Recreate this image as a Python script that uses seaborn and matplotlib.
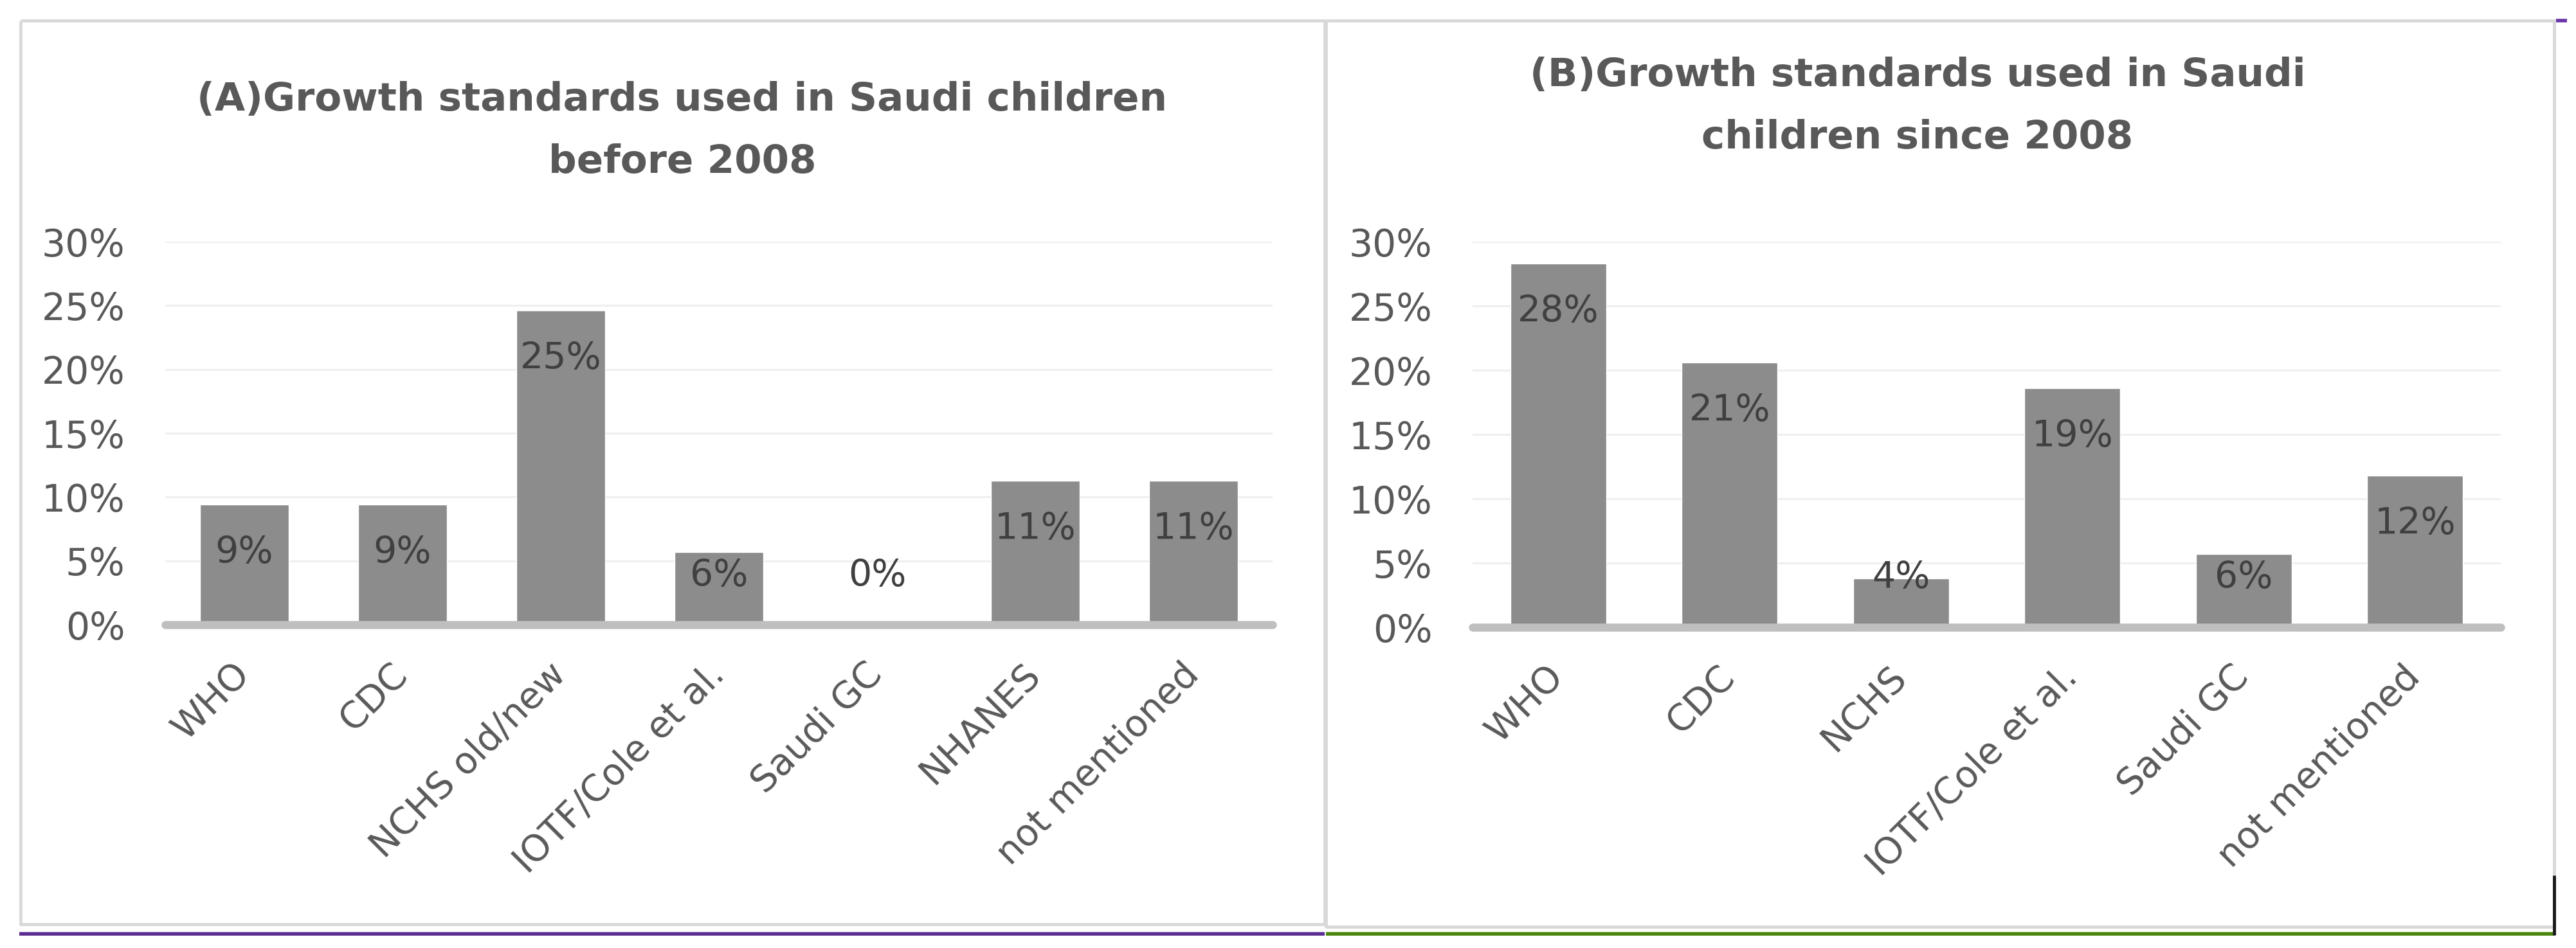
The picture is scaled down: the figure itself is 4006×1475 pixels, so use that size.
import numpy as np
import matplotlib
matplotlib.use("Agg")
import matplotlib.pyplot as plt
from matplotlib.lines import Line2D
from matplotlib.ticker import PercentFormatter
import seaborn as sns

sns.set_theme(style="white")
plt.rcParams['font.family'] = ['DejaVu Sans']

# Dados (percentagens)
cats_a = ['WHO', 'CDC', 'NCHS old/new', 'IOTF/Cole et al.', 'Saudi GC', 'NHANES', 'not mentioned']
vals_a = [9.4, 9.4, 24.6, 5.7, 0.0, 11.3, 11.3]
title_a = ['(A)Growth standards used in Saudi children', 'before 2008']

cats_b = ['WHO', 'CDC', 'NCHS', 'IOTF/Cole et al.', 'Saudi GC', 'not mentioned']
vals_b = [28.3, 20.6, 3.8, 18.6, 5.7, 11.8]
title_b = ['(B)Growth standards used in Saudi', 'children since 2008']

W, H = 4006, 1475
fig = plt.figure(figsize=(W / 100, H / 100), dpi=100)

bar_col = '#8c8c8c'
txt_col = '#595959'


def px(x0, y0, x1, y1):
    # caixa em pixels -> fração da figura
    return [x0 / W, 1 - y1 / H, (x1 - x0) / W, (y1 - y0) / H]


def painel(ax, cats, vals):
    sns.barplot(x=cats, y=vals, color=bar_col, saturation=1, width=0.56, ax=ax, zorder=2)
    ax.set_ylim(0, 30)
    ax.set_xlim(-0.5, len(cats) - 0.5)
    ax.set_yticks(np.arange(0, 31, 5))
    ax.yaxis.set_major_formatter(PercentFormatter(decimals=0))
    ax.grid(axis='y', color='#efefef', lw=2.2, zorder=0)
    ax.axhline(0, color='#bfbfbf', lw=9, zorder=3, clip_on=False)
    for s in ax.spines.values():
        s.set_visible(False)
    ax.tick_params(axis='y', length=0, pad=45, labelsize=42, labelcolor=txt_col)
    ax.tick_params(axis='x', length=0, pad=50, labelsize=41, labelcolor=txt_col)
    ax.set_xticks(range(len(cats)))
    ax.set_xticklabels(cats, rotation=45, ha='right', va='center', rotation_mode='anchor')
    ax.set_xlabel('')
    ax.set_ylabel('')
    for i, v in enumerate(vals):
        ax.text(i, max(v - 3.8, 3.8), f'{v:.0f}%', ha='center', va='center',
                fontsize=41, color='#404040', zorder=4)


ax_a = fig.add_axes(px(257, 376, 1979, 972))
painel(ax_a, cats_a, vals_a)
ax_b = fig.add_axes(px(2290, 376, 3889, 976))
painel(ax_b, cats_b, vals_b)

# títulos, uma linha de cada vez
for xc, ys, linhas in [(1061, (156, 252), title_a), (2982, (118, 214), title_b)]:
    for y, t in zip(ys, linhas):
        fig.text(xc / W, 1 - y / H, t, ha='center', va='center', fontsize=44,
                 fontweight='bold', color=txt_col)

# molduras dos painéis e linhas coloridas
def linha(xs, ys, cor, lw):
    fig.add_artist(Line2D([x / W for x in xs], [1 - y / H for y in ys], color=cor, lw=lw,
                          solid_capstyle='butt', transform=fig.transFigure))

moldura = '#d9d9d9'
linha([32, 2060, 2060, 32, 32], [32, 32, 1438, 1438, 32], moldura, 3.5)
linha([2062, 3972, 3972, 2062, 2062], [32, 32, 1442, 1442, 32], moldura, 3.5)
linha([30, 2060], [1453, 1453], '#5b2d91', 4)
linha([2062, 3972], [1453, 1453], '#4a850b', 4)
linha([3975, 3992], [32, 32], '#6a35a8', 4)
linha([3972, 3972], [1362, 1455], '#1a1a1a', 3.5)

plt.savefig('out.png', dpi=100, facecolor='white')
